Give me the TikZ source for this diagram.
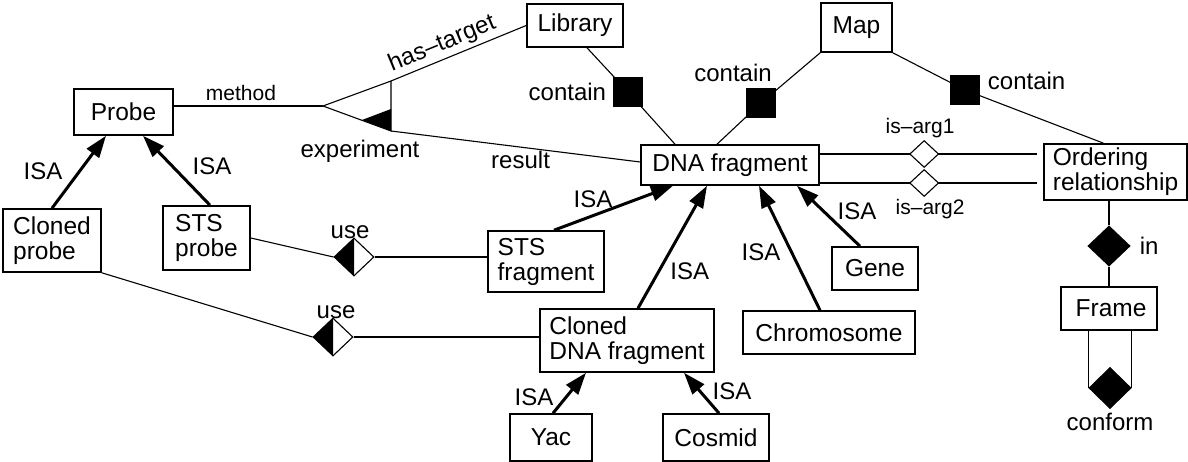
\documentclass[tikz,border=0pt]{standalone}
\usepackage{fontspec}
\setmainfont{Liberation Sans}
\usetikzlibrary{shapes.geometric,arrows.meta}
\begin{document}
\begin{tikzpicture}[x=1pt,y=-1pt,
  box/.style={draw, line width=1.6pt, inner sep=0pt, align=left, font=\fontsize{24.5}{25}\selectfont},
  lab/.style={font=\fontsize{24}{25}\selectfont, inner sep=1pt},
  slab/.style={font=\fontsize{21}{22}\selectfont, inner sep=1pt},
  conn/.style={line width=1.1pt},
  isa/.style={line width=3pt, -{Triangle[length=22pt,width=15pt]}},
  sq/.style={fill=black, draw=black, minimum size=29pt, inner sep=0pt},
  dia/.style={diamond, draw, line width=1.1pt, inner sep=0pt},
  halfdia/.style={dia, fill=white, minimum width=40pt, minimum height=38pt,
    path picture={\fill[black] (path picture bounding box.north) -- (path picture bounding box.west) -- (path picture bounding box.south) -- cycle;}}
]
\useasboundingbox (0,0) rectangle (1188,462);

% boxes
\node[box, minimum width=99pt, minimum height=46pt] (probe) at (123.5,112) {Probe};
\node[box, minimum width=96pt, minimum height=43pt] (library) at (575,25.5) {Library};
\node[box, minimum width=71pt, minimum height=49pt] (map) at (856.5,27.5) {Map};
\node[box, minimum width=178pt, minimum height=40pt] (dna) at (730,165) {DNA fragment};
\node[box, minimum width=143pt, minimum height=56pt] (ord) at (1115.5,172) {Ordering\\relationship};
\node[box, minimum width=96pt, minimum height=43pt] (frame) at (1109,308.5) {\hspace{4pt}Frame};
\node[box, minimum width=86pt, minimum height=43pt] (gene) at (875,268.5) {Gene};
\node[box, minimum width=172pt, minimum height=43pt] (chrom) at (829,332.5) {Chromosome};
\node[box, minimum width=174pt, minimum height=63pt] (cdna) at (627,340.5) {Cloned\\DNA fragment};
\node[box, minimum width=116pt, minimum height=61pt] (stsf) at (546,261.5) {STS\\fragment};
\node[box, minimum width=82pt, minimum height=47pt] (yac) at (551,437.5) {Yac};
\node[box, minimum width=106pt, minimum height=47pt] (cosmid) at (716,437.5) {Cosmid};
\node[box, minimum width=98pt, minimum height=63pt] (cprobe) at (52,240.5) {Cloned\\probe};
\node[box, minimum width=87pt, minimum height=64pt] (stsp) at (206.5,238) {STS\\probe};

% experiment triangle
\coordinate (expTip) at (323,106);
\coordinate (expTop) at (391,81);
\coordinate (expBot) at (391,131);
\draw[conn] (expTip) -- (expTop) -- (expBot) -- cycle;
\fill (362,120) -- (391,109) -- (391,131) -- cycle;
\node[lab] (explab) at (360,151) {experiment};

\draw[conn] ([yshift=6pt]probe.east) -- (expTip) node[slab, pos=0.45, above, yshift=4pt] {method};
\draw[conn] (expTop) -- (library.west) node[lab, sloped, above, pos=0.42, yshift=2pt] {has–target};
\draw[conn] (expBot) -- ([yshift=3pt]dna.west) node[lab, pos=0.52, below, yshift=-2pt] {result};

% contain squares
\node[sq, label={[lab, label distance=6pt]left:contain}] (sq1) at (628,92) {};
\node[sq, label={[lab, xshift=-28pt, label distance=5pt]above:contain}] (sq2) at (761,103) {};
\node[sq, label={[lab, yshift=9pt, label distance=7pt]right:contain}] (sq3) at (965,90) {};
\draw[conn] ([xshift=12pt]library.south) -- (sq1) -- ([xshift=-55pt]dna.north);
\draw[conn] (map.south west) -- (sq2) -- ([xshift=-13pt]dna.north);
\draw[conn] (map.south east) -- (sq3) -- ([xshift=-12pt]ord.north);

% is-arg
\draw[conn] ([yshift=11pt]dna.east) -- ([xshift=-6pt,yshift=18pt]ord.west)
  node[dia, fill=white, pos=0.48, minimum width=29pt, minimum height=27pt, label={[slab, xshift=-4pt, label distance=1pt]above:is–arg1}] (a1) {};
\draw[conn] ([yshift=-18pt]dna.east) -- ([xshift=-6pt,yshift=-11pt]ord.west)
  node[dia, fill=white, pos=0.48, minimum width=29pt, minimum height=27pt, label={[slab, xshift=6pt, label distance=1pt]below:is–arg2}] (a2) {};

% in / conform
\node[dia, fill=black, minimum width=42pt, minimum height=40pt, label={[lab, label distance=8pt]right:in}] (din) at (1109,246) {};
\draw[conn] (ord.south -| din.north) -- (din.north);
\draw[conn] (din.south) -- (din.south |- frame.north);
\node[dia, fill=black, minimum width=42pt, minimum height=41pt, label={[lab, label distance=3pt]below:conform}] (dconf) at (1110,388) {};
\draw[conn] (frame.south -| dconf.west) -- (dconf.west);
\draw[conn] (frame.south -| dconf.east) -- (dconf.east);

% use
\node[halfdia, label={[lab, xshift=-4pt, label distance=-2pt]above:use}] (u1) at (354,257) {};
\node[halfdia, label={[lab, xshift=3pt, label distance=-2pt]above:use}] (u2) at (333,337) {};
\draw[conn] (stsp.east) -- (u1.west);
\draw[conn] (u1.east) -- (u1.east -| stsf.west);
\draw[conn] (cprobe.south east) -- (u2.west);
\draw[conn] (u2.east) -- (u2.east -| cdna.west);

% ISA arrows
\draw[isa] (cprobe.north) -- ([xshift=-17.5pt]probe.south) node[lab, pos=0.5, xshift=-36pt, yshift=1pt] {ISA};
\draw[isa] ([xshift=3.5pt]stsp.north) -- ([xshift=19.5pt]probe.south) node[lab, pos=0.5, xshift=35.5pt, yshift=4.5pt] {ISA};
\draw[isa] ([xshift=8pt]stsf.north) -- ([xshift=-57pt]dna.south) node[lab, pos=0.5, xshift=-20.5pt, yshift=9pt] {ISA};
\draw[isa] ([xshift=11pt]cdna.north) -- ([xshift=-23pt]dna.south) node[lab, pos=0.3, xshift=31pt] {ISA};
\draw[isa] ([xshift=-9pt]chrom.north) -- ([xshift=29pt]dna.south) node[lab, pos=0.5, xshift=-28.5pt, yshift=-4.5pt] {ISA};
\draw[isa] ([xshift=-15pt]gene.north) -- ([xshift=67pt]dna.south) node[lab, pos=0.5, xshift=28.5pt, yshift=4.5pt] {ISA};
\draw[isa] ([xshift=2pt]yac.north) -- ([xshift=-41pt]cdna.south) node[lab, pos=0.5, xshift=-35.5pt, yshift=-4pt] {ISA};
\draw[isa] ([xshift=3pt]cosmid.north) -- ([xshift=57pt]cdna.south) node[lab, pos=0.5, xshift=30.5pt, yshift=2pt] {ISA};
\end{tikzpicture}
\end{document}
